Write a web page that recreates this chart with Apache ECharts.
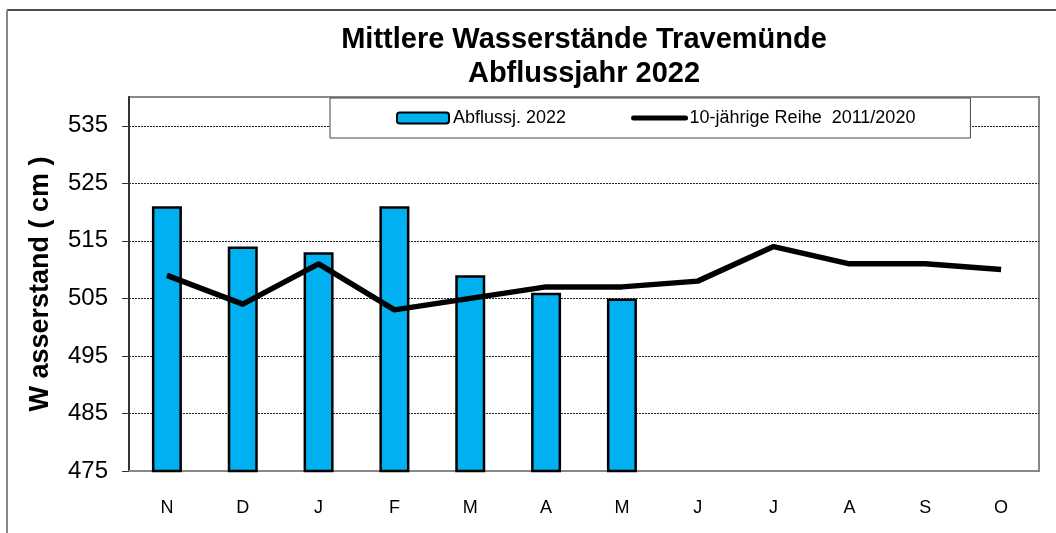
<!DOCTYPE html>
<html>
<head>
<meta charset="utf-8">
<script src="https://cdn.jsdelivr.net/npm/echarts@6/dist/echarts.min.js"></script>
<style>html,body{margin:0;padding:0;background:#fff}#c{width:1056px;height:533px}</style>
</head>
<body>
<div id="c"></div>
<script>
const months = ['N','D','J','F','M','A','M','J','J','A','S','O'];
const abfluss2022 = [521, 514, 513, 521, 509, 506, 505, null, null, null, null, null];
const reihe10 = [509, 504, 511, 503, 505, 507, 507, 508, 514, 511, 511, 510];
const yTicks = [475, 485, 495, 505, 515, 525, 535];
const titleText = 'Mittlere Wasserstände Travemünde\nAbflussjahr 2022';
const yName = 'W asserstand ( cm )';
const seriesNames = ['Abflussj. 2022', '10-jährige Reihe  2011/2020'];

const chart = echarts.init(document.getElementById('c'), null, {renderer: 'canvas'});
const FONT = '"Liberation Sans", Arial, sans-serif';
chart.setOption({
  animation: false,
  backgroundColor: '#fff',
  textStyle: {fontFamily: FONT},
  title: {
    text: titleText,
    left: 579,
    textAlign: 'center',
    top: 18,
    textStyle: {fontFamily: FONT, fontSize: 29, fontWeight: 'bold', color: '#000', lineHeight: 34}
  },
  legend: {
    left: 330,
    top: 98,
    padding: [11, 55, 11, 66],
    itemGap: 65,
    itemWidth: 52,
    itemHeight: 11,
    backgroundColor: '#fff',
    borderColor: '#444',
    borderWidth: 1,
    lineStyle: {width: 5, cap: 'round'},
    textStyle: {fontFamily: FONT, fontSize: 18, color: '#000', padding: [0, 0, 0, -1]},
    data: [
      {name: seriesNames[0]},
      {name: seriesNames[1], itemStyle: {opacity: 0}, lineStyle: {width: 5, color: '#000', cap: 'round'}}
    ]
  },
  grid: {
    left: 129, right: 17, top: 97, bottom: 62,
    show: true, borderColor: '#888', borderWidth: 2
  },
  xAxis: {
    type: 'category',
    data: months,
    axisLine: {lineStyle: {color: '#888', width: 2}},
    axisTick: {show: false},
    axisLabel: {fontFamily: FONT, fontSize: 18, color: '#000', margin: 28}
  },
  yAxis: {
    type: 'value',
    min: 475, max: 540, interval: 10,
    name: yName,
    nameLocation: 'middle',
    nameGap: 75,
    nameTextStyle: {fontFamily: FONT, fontSize: 27, fontWeight: 'bold', color: '#000'},
    axisLine: {show: true, lineStyle: {color: '#333', width: 2}},
    axisTick: {show: true, inside: false, length: 7, lineStyle: {color: '#333', width: 1}, customValues: yTicks},
    axisLabel: {fontFamily: FONT, fontSize: 24, color: '#000', margin: 21, customValues: yTicks},
    splitLine: {show: true, lineStyle: {color: '#222', width: 1, type: [2, 1]}}
  },
  series: [
    {
      name: seriesNames[0],
      type: 'bar',
      data: abfluss2022,
      barWidth: 30,
      itemStyle: {color: '#00B0F0', borderColor: '#000', borderWidth: 2.5},
      z: 2
    },
    {
      name: seriesNames[1],
      type: 'line',
      data: reihe10,
      symbol: 'none',
      lineStyle: {color: '#000', width: 5.5},
      itemStyle: {color: '#000'},
      z: 3
    }
  ],
  graphic: [
    {type: 'line', shape: {x1: 7, y1: 10, x2: 1056, y2: 10}, style: {stroke: '#111', lineWidth: 1.5}, silent: true},
    {type: 'line', shape: {x1: 7, y1: 10, x2: 7, y2: 533}, style: {stroke: '#888', lineWidth: 2}, silent: true}
  ]
});
</script>
</body>
</html>
